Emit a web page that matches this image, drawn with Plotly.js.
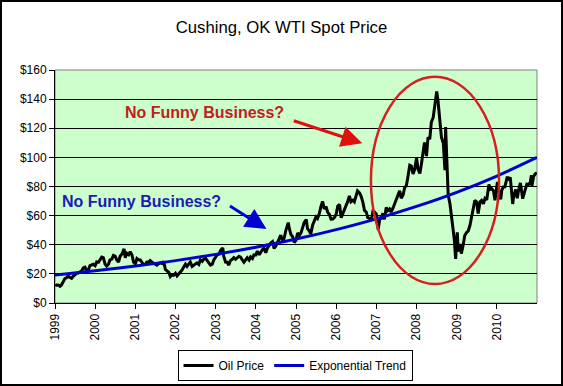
<!DOCTYPE html>
<html>
<head>
<meta charset="utf-8">
<script src="https://cdn.plot.ly/plotly-3.0.1.min.js"></script>
<style>html,body{margin:0;padding:0;background:#fff;}#chart{width:563px;height:386px;}</style>
</head>
<body>
<div id="chart"></div>
<script>
const oilDates = [
"1999-01-04","1999-01-15","1999-02-01","1999-02-15","1999-03-01","1999-03-15","1999-04-01","1999-04-15","1999-05-01","1999-05-15","1999-06-01","1999-06-15","1999-07-01","1999-07-15","1999-08-01","1999-08-15","1999-09-01","1999-09-15","1999-10-01","1999-10-15","1999-11-01","1999-11-15","1999-12-01","1999-12-15",
"2000-01-01","2000-01-15","2000-02-01","2000-02-15","2000-03-01","2000-03-15","2000-04-01","2000-04-15","2000-05-01","2000-05-15","2000-06-01","2000-06-15","2000-07-01","2000-07-15","2000-08-01","2000-08-15","2000-09-01","2000-09-20","2000-10-01","2000-10-15","2000-11-01","2000-11-15","2000-12-01","2000-12-15",
"2001-01-01","2001-01-15","2001-02-01","2001-02-15","2001-03-01","2001-03-15","2001-04-01","2001-04-15","2001-05-01","2001-05-15","2001-06-01","2001-06-15","2001-07-01","2001-07-15","2001-08-01","2001-08-15","2001-09-01","2001-09-15","2001-10-01","2001-10-15","2001-11-01","2001-11-15","2001-12-01","2001-12-15",
"2002-01-01","2002-01-15","2002-02-01","2002-02-15","2002-03-01","2002-03-15","2002-04-01","2002-04-15","2002-05-01","2002-05-15","2002-06-01","2002-06-15","2002-07-01","2002-07-15","2002-08-01","2002-08-15","2002-09-01","2002-09-15","2002-10-01","2002-10-15","2002-11-01","2002-11-15","2002-12-01","2002-12-15",
"2003-01-01","2003-01-15","2003-02-01","2003-02-15","2003-03-07","2003-03-15","2003-04-01","2003-04-15","2003-05-01","2003-05-15","2003-06-01","2003-06-15","2003-07-01","2003-07-15","2003-08-01","2003-08-15","2003-09-01","2003-09-15","2003-10-01","2003-10-15","2003-11-01","2003-11-15","2003-12-01","2003-12-15",
"2004-01-01","2004-01-15","2004-02-01","2004-02-15","2004-03-01","2004-03-15","2004-04-01","2004-04-15","2004-05-01","2004-05-15","2004-06-01","2004-06-15","2004-07-01","2004-07-15","2004-08-01","2004-08-15","2004-09-01","2004-09-15","2004-10-01","2004-10-22","2004-11-01","2004-11-15","2004-12-01","2004-12-15",
"2005-01-01","2005-01-15","2005-02-01","2005-02-15","2005-03-01","2005-03-15","2005-04-04","2005-04-15","2005-05-01","2005-05-15","2005-06-01","2005-06-15","2005-07-01","2005-07-15","2005-08-01","2005-08-15","2005-08-30","2005-09-15","2005-10-01","2005-10-15","2005-11-01","2005-11-15","2005-12-01","2005-12-15",
"2006-01-01","2006-01-15","2006-02-01","2006-02-15","2006-03-01","2006-03-15","2006-04-01","2006-04-15","2006-05-01","2006-05-15","2006-06-01","2006-06-15","2006-07-01","2006-07-14","2006-08-01","2006-08-15","2006-09-01","2006-09-15","2006-10-01","2006-10-15","2006-11-01","2006-11-15","2006-12-01","2006-12-15",
"2007-01-01","2007-01-18","2007-02-01","2007-02-15","2007-03-01","2007-03-15","2007-04-01","2007-04-15","2007-05-01","2007-05-15","2007-06-01","2007-06-15","2007-07-01","2007-07-15","2007-08-01","2007-08-15","2007-09-01","2007-09-15","2007-10-01","2007-10-15","2007-11-01","2007-11-15","2007-12-01","2007-12-15",
"2008-01-02","2008-01-15","2008-02-01","2008-02-15","2008-03-01","2008-03-14","2008-04-01","2008-04-15","2008-05-01","2008-05-15","2008-06-01","2008-06-15","2008-07-03","2008-07-15","2008-08-01","2008-08-15","2008-09-01","2008-09-16","2008-09-22","2008-10-01","2008-10-15","2008-11-01","2008-11-15","2008-12-01","2008-12-10","2008-12-22",
"2009-01-06","2009-01-15","2009-02-01","2009-02-12","2009-03-01","2009-03-15","2009-04-01","2009-04-15","2009-05-01","2009-05-15","2009-06-01","2009-06-15","2009-07-01","2009-07-15","2009-08-01","2009-08-15","2009-09-01","2009-09-15","2009-10-01","2009-10-21","2009-11-01","2009-11-15","2009-12-01","2009-12-15",
"2010-01-06","2010-01-15","2010-02-05","2010-02-15","2010-03-01","2010-03-15","2010-04-06","2010-04-15","2010-05-03","2010-05-25","2010-06-01","2010-06-21","2010-07-06","2010-07-15","2010-08-03","2010-08-24","2010-09-01","2010-09-15","2010-10-01","2010-10-15","2010-11-01","2010-11-11","2010-11-16","2010-12-01","2010-12-15","2010-12-31"
];
const oilPrices = [
12.8,12.2,12.3,11.5,12.4,14.6,16.8,17.3,18.6,17.6,16.9,18.3,19.5,20.4,20.6,21.6,22.2,24.1,24.6,22.1,22.9,25.6,26.1,26.6,
25.6,28.2,28.0,29.6,31.6,31.2,26.6,25.4,26.6,29.6,30.1,32.6,32.1,29.6,28.1,32.1,33.6,37.2,31.0,34.1,33.1,35.2,33.0,28.1,
26.8,30.6,29.6,29.5,27.6,26.4,26.5,28.1,28.0,29.1,28.0,27.4,26.5,26.0,27.1,27.6,27.1,28.6,23.1,22.0,21.1,18.1,19.4,19.0,
20.4,18.6,20.1,21.1,22.6,24.6,26.6,25.1,26.6,28.1,25.1,26.0,26.6,27.6,26.5,29.6,28.6,30.1,30.6,29.1,27.5,26.0,26.6,29.6,
31.6,33.1,33.6,36.1,37.8,32.1,28.1,28.0,26.0,29.1,30.0,31.1,30.0,31.1,32.1,31.5,29.0,28.0,29.6,31.1,29.5,31.6,30.6,33.1,
33.0,35.6,33.1,35.0,36.6,37.6,34.5,37.6,39.6,41.1,42.1,37.5,39.1,41.1,44.1,46.6,42.5,44.6,50.1,55.2,51.0,47.1,45.5,41.6,
43.0,48.1,46.5,48.1,51.6,55.1,57.3,51.0,49.6,47.5,53.6,56.6,59.1,58.0,61.6,66.1,69.8,64.6,66.1,62.5,60.6,57.5,57.6,58.6,
61.0,66.6,67.6,58.5,61.1,62.6,66.6,69.6,73.6,69.5,70.6,69.5,73.6,77.0,75.6,73.5,69.1,63.6,62.5,58.6,58.1,56.5,63.1,62.6,
61.0,50.5,57.6,58.1,61.6,57.5,65.6,63.5,64.6,62.5,65.1,68.1,70.6,74.1,77.1,72.0,74.1,79.1,80.6,86.6,94.6,94.1,88.6,91.6,
99.6,91.9,89.0,95.5,102.6,110.2,100.9,113.8,112.5,124.1,127.4,134.6,145.3,138.7,125.1,113.8,109.7,91.2,120.9,98.5,74.5,67.8,57.0,49.3,43.5,30.3,
48.6,35.4,40.5,33.9,40.0,46.3,48.4,49.4,53.2,58.6,66.3,70.5,69.3,61.5,69.5,70.5,68.1,71.8,70.8,81.4,78.0,78.5,77.0,70.5,
83.2,78.0,71.2,77.5,79.7,79.8,86.8,84.5,86.2,68.0,72.6,78.0,71.9,76.6,82.5,71.6,73.9,77.0,81.6,81.3,82.9,87.8,80.4,86.8,88.6,89.5
];
const trendDates = ["1999-01-01","2000-01-01","2001-01-01","2002-01-01","2003-01-01","2004-01-01","2005-01-01","2006-01-01","2007-01-01","2008-01-01","2009-01-01","2010-01-01","2011-01-01"];
const trendValues = [19.2,22.1,25.4,29.1,33.4,38.3,43.9,50.4,57.8,66.3,76.0,87.2,100.0];
const yearTickVals = ["1999-01-01","2000-01-01","2001-01-01","2002-01-01","2003-01-01","2004-01-01","2005-01-01","2006-01-01","2007-01-01","2008-01-01","2009-01-01","2010-01-01"];
const yearTickText = ["1999","2000","2001","2002","2003","2004","2005","2006","2007","2008","2009","2010"];

const FONT = "Liberation Sans, Arial, sans-serif";

const traces = [
  {x: oilDates, y: oilPrices, type: "scatter", mode: "lines", name: "Oil Price",
   line: {color: "#000000", width: 3}},
  {x: trendDates, y: trendValues, type: "scatter", mode: "lines", name: "Exponential Trend",
   line: {color: "#0000cc", width: 3, shape: "spline"}}
];

const layout = {
  width: 563, height: 386,
  margin: {l: 55, r: 26, t: 70, b: 83, pad: 0, autoexpand: false},
  paper_bgcolor: "#ffffff",
  plot_bgcolor: "#ccffcc",
  font: {family: FONT, size: 12, color: "#000"},
  title: {text: "Cushing, OK WTI Spot Price", font: {family: FONT, size: 16.7, color: "#000"},
          x: 0.5, xanchor: "center", y: 1 - 27/386, yanchor: "middle"},
  showlegend: true,
  legend: {orientation: "h", x: 0.498, xanchor: "center", y: -47/233, yanchor: "top",
           bgcolor: "#ffffff", bordercolor: "#000", borderwidth: 1,
           font: {family: FONT, size: 12, color: "#000"}, itemwidth: 30},
  xaxis: {type: "date", range: ["1999-01-01", "2011-01-01"], automargin: false,
          tickmode: "array", tickvals: yearTickVals, ticktext: yearTickText,
          tickangle: -90, ticks: "outside", ticklen: 5, tickcolor: "#000", tickwidth: 1,
          showgrid: false, showline: true, linecolor: "#000", linewidth: 1,
          tickfont: {family: FONT, size: 12, color: "#000"}, zeroline: false, fixedrange: true},
  yaxis: {range: [0, 160], dtick: 20, tick0: 0, tickprefix: "$", automargin: false,
          ticks: "outside", ticklen: 5, tickcolor: "#000", tickwidth: 1,
          showgrid: true, gridcolor: "#000", gridwidth: 1,
          showline: true, linecolor: "#000", linewidth: 1, zeroline: false,
          tickfont: {family: FONT, size: 12, color: "#000"}, fixedrange: true},
  shapes: [
    {type: "rect", xref: "paper", yref: "paper", x0: 0, x1: 1, y0: 0, y1: 1,
     line: {color: "#808080", width: 1}, layer: "below"},
    {type: "circle", xref: "x", yref: "y", x0: "2006-11-13", x1: "2010-01-21", y0: 13.0, y1: 155.4,
     line: {color: "#d42020", width: 2.5}},
    {type: "rect", xref: "paper", yref: "paper",
     x0: (1 - 55) / 482, x1: (562 - 55) / 482, y0: (303 - 385) / 233, y1: (303 - 1) / 233,
     line: {color: "#000", width: 2}}
  ],
  annotations: [
    {xref: "paper", yref: "paper", x: (204 - 55) / 482, y: (303 - 113) / 233,
     text: "<b>No Funny Business?</b>", showarrow: false,
     font: {family: FONT, size: 16, color: "#c0201e"}, xanchor: "center", yanchor: "middle"},
    {xref: "paper", yref: "paper", x: (141 - 55) / 482, y: (303 - 201.7) / 233,
     text: "<b>No Funny Business?</b>", showarrow: false,
     font: {family: FONT, size: 16, color: "#1c1cb4"}, xanchor: "center", yanchor: "middle"},
    {xref: "x", yref: "y", x: "2006-08-26", y: 109.7, ax: -70, ay: -23, text: "",
     showarrow: true, arrowhead: 2, arrowsize: 1.4, arrowwidth: 3, arrowcolor: "#e01010", standoff: 0, startstandoff: 0},
    {xref: "x", yref: "y", x: "2004-04-07", y: 50.8, ax: -38, ay: -24, text: "",
     showarrow: true, arrowhead: 2, arrowsize: 1.4, arrowwidth: 3, arrowcolor: "#0000d0", standoff: 0, startstandoff: 0}
  ]
};

Plotly.newPlot("chart", traces, layout, {displayModeBar: false, staticPlot: true});
</script>
</body>
</html>
